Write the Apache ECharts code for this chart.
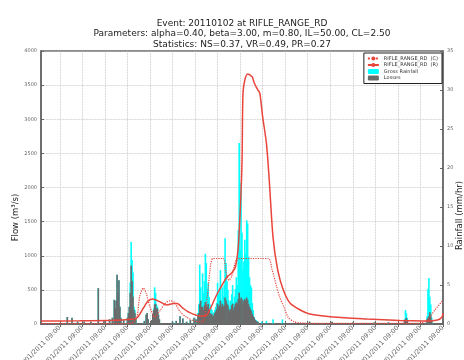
<!DOCTYPE html>
<html>
<head>
<meta charset="utf-8">
<script src="https://cdn.jsdelivr.net/npm/echarts@6/dist/echarts.min.js"></script>
<style>
html, body { margin: 0; padding: 0; background: #fff; }
#main { width: 464px; height: 360px; }
</style>
</head>
<body>
<div id="main"></div>
<script>
// hourly steps, first one at 31/12/2010 13:00 (ticks fall on 09:00 each day)
var startTime = Date.UTC(2010, 11, 31, 13);
var nHours = 429;

// flow, RIFLE_RANGE_RD (R): [hour index, m3/s]
var recHour = [0, 41, 79, 95, 102, 109, 114, 119, 127, 134, 141, 145, 151, 157, 169, 175, 178, 183, 188, 194,
  198, 203, 207, 210, 212, 214, 215, 217, 220, 225, 226, 228, 231, 233, 236, 240, 243, 247, 252, 258,
  265, 276, 286, 311, 347, 382, 407, 422, 427, 428];
var recFlow = [44, 46, 55, 70, 88, 234, 337, 366, 322, 278, 300, 300, 234, 176, 117, 117, 160, 308, 454, 600,
  688, 747, 835, 1128, 1626, 2358, 3370, 3575, 3662, 3618, 3575, 3501, 3428, 3384, 3035, 2650, 2110, 1277, 791, 498,
  308, 205, 147, 103, 73, 50, 44, 59, 103, 161];

// flow, RIFLE_RANGE_RD (C)
var calHour = [0, 95, 102, 105, 109, 112, 116, 121, 127, 132, 137, 142, 148, 155, 164, 172, 177, 180, 183, 194,
  197, 200, 203, 208, 212, 242, 246, 251, 254, 259, 263, 270, 286, 403, 412, 419, 428];
var calFlow = [5, 5, 100, 400, 527, 450, 250, 100, 200, 300, 340, 320, 180, 100, 40, 30, 400, 800, 960, 960,
  760, 640, 700, 950, 960, 960, 800, 540, 400, 240, 100, 30, 10, 10, 60, 200, 350];

// rainfall, mm/hr
var rainHour = [28, 33, 39, 46, 53, 61, 67, 73, 76, 78, 79, 80, 81, 82, 83, 84, 85, 88, 92, 93,
  94, 95, 96, 97, 98, 99, 100, 101, 110, 112, 113, 114, 118, 119, 120, 121, 122, 123, 124, 125,
  126, 140, 144, 148, 151, 155, 159, 163, 165,
  167, 168, 169, 170, 171, 172, 173, 174, 175, 176, 177, 178, 179, 180, 181, 182, 183, 184, 185, 186,
  187, 188, 189, 190, 191, 192, 193, 194, 195, 196, 197, 198, 199, 200, 201, 202, 203, 204, 205, 206,
  207, 208, 209, 210, 211, 212, 213, 214, 215, 216, 217, 218, 219, 220, 221, 222, 223, 224, 225, 226,
  227, 228, 229, 230, 231,
  235, 240, 247, 257, 286, 310, 332, 355, 370, 387, 388, 389, 390, 411, 412, 413, 414, 415, 416];
var grossRain = [0.9, 0.8, 0.3, 0.3, 0.3, 4.6, 0.4, 0.6, 0.8, 3.1, 2.0, 3.0, 6.3, 4.0, 5.6, 2.2, 0.8, 0.5, 0.8, 1.4,
  2.2, 5.3, 10.5, 8.2, 6.6, 2.2, 1.8, 0.8, 0.4, 1.2, 1.4, 0.6, 0.5, 1.3, 2.0, 4.7, 4.0, 2.5, 2.2, 1.3,
  0.6, 0.3, 0.4, 1.0, 0.7, 0.3, 0.5, 0.8, 0.6,
  1.4, 2.5, 7.6, 4.7, 3.0, 6.5, 4.0, 5.5, 9.0, 7.8, 4.5, 5.3, 3.5, 2.5, 2.0, 1.8, 1.2, 1.5, 1.8, 2.2,
  2.7, 5.3, 3.8, 4.2, 6.9, 3.0, 4.7, 3.5, 5.0, 11.0, 7.8, 5.5, 4.4, 3.0, 2.2, 3.0, 3.8, 5.0, 2.7, 3.5,
  4.5, 6.0, 5.0, 12.0, 23.2, 9.5, 18.1, 11.7, 6.9, 8.0, 10.8, 9.0, 13.3, 12.9, 8.6, 6.0, 5.0, 4.7, 2.7, 1.8,
  0.9, 0.6, 0.5, 0.4, 0.3,
  0.3, 0.4, 0.6, 0.6, 0.3, 0.3, 0.2, 0.2, 0.2, 0.6, 1.8, 1.4, 0.8, 1.0, 4.5, 5.9, 3.5, 2.5, 0.8];
var lossRain = [0.9, 0.8, 0.3, 0.3, 0.3, 4.6, 0.4, 0.6, 0.8, 3.1, 2.0, 3.0, 6.3, 4.0, 5.6, 2.2, 0.8, 0.5, 0.8, 1.4,
  2.2, 4.0, 7.5, 5.5, 3.5, 1.8, 1.4, 0.6, 0.4, 1.2, 1.4, 0.6, 0.5, 1.3, 1.8, 2.5, 2.6, 2.0, 2.0, 1.2,
  0.6, 0.3, 0.4, 1.0, 0.7, 0.3, 0.5, 0.8, 0.6,
  1.0, 1.4, 2.6, 3.0, 2.2, 2.2, 1.8, 2.4, 2.8, 2.4, 2.2, 2.6, 1.8, 1.4, 1.2, 1.3, 1.0, 1.1, 1.4, 1.6,
  1.9, 2.6, 2.2, 2.4, 3.0, 2.2, 2.6, 2.2, 2.4, 3.4, 3.0, 2.6, 2.4, 1.9, 1.6, 1.9, 2.4, 2.6, 1.8, 2.2,
  2.6, 2.8, 2.6, 3.2, 4.0, 3.0, 3.4, 3.2, 2.6, 3.0, 3.2, 3.0, 3.4, 3.1, 2.6, 2.2, 1.9, 1.7, 1.3, 1.0,
  0.8, 0.5, 0.4, 0.3, 0.3,
  0.1, 0.1, 0.1, 0.1, 0.3, 0.3, 0.2, 0.2, 0.2, 0.5, 0.6, 0.8, 0.5, 0.6, 0.8, 1.0, 1.5, 1.0, 0.5];

var titleText = 'Event: 20110102 at RIFLE_RANGE_RD\n' +
  'Parameters: alpha=0.40, beta=3.00, m=0.80, IL=50.00, CL=2.50\n' +
  'Statistics: NS=0.37, VR=0.49, PR=0.27';

function pad(n) { return n < 10 ? '0' + n : '' + n; }
var hours = [];
for (var i = 0; i < nHours; i++) {
  var d = new Date(startTime + i * 3600000);
  hours.push(pad(d.getUTCDate()) + '/' + pad(d.getUTCMonth() + 1) + '/' + d.getUTCFullYear() + ' ' +
    pad(d.getUTCHours()) + ':' + pad(d.getUTCMinutes()));
}
function atNine(index, value) { return hours[index].slice(-5) === '09:00'; }
function pairs(xs, ys) { return xs.map(function (x, k) { return [x, ys[k]]; }); }
function plain(v) { return '' + v; }

var red = '#e8453c';
var axisColor = '#666';
var font = 'DejaVu Sans';

var chart = echarts.init(document.getElementById('main'), null, { renderer: 'canvas' });
chart.setOption({
  animation: false,
  backgroundColor: '#fff',
  textStyle: { fontFamily: font },
  title: {
    text: titleText, left: 242, top: 18, padding: 0, textAlign: 'center',
    textStyle: { fontSize: 9, fontWeight: 'normal', lineHeight: 10.6, color: '#222', fontFamily: font }
  },
  legend: {
    data: ['RIFLE_RANGE_RD  (C)', 'RIFLE_RANGE_RD  (R)', 'Gross Rainfall', 'Losses'],
    orient: 'vertical', right: 22, top: 53, itemGap: 1.5, itemWidth: 11, itemHeight: 5,
    padding: [3, 4, 3, 3], borderColor: '#222', borderWidth: 1, backgroundColor: '#fff',
    textStyle: { fontSize: 5, color: '#333', fontFamily: font }
  },
  grid: {
    left: 41, right: 21, top: 51, bottom: 36, outerBoundsMode: 'none',
    show: true, borderColor: axisColor, borderWidth: 1.5
  },
  xAxis: [{
    type: 'category', data: hours, boundaryGap: false,
    axisLine: { lineStyle: { color: axisColor, width: 1.5 } },
    axisTick: { interval: atNine, inside: true, length: 3, lineStyle: { color: axisColor } },
    axisLabel: { interval: atNine, rotate: 45, fontSize: 6.5, color: '#666', margin: 3 },
    splitLine: { show: true, interval: atNine, lineStyle: { type: 'dotted', color: '#bbb', width: 0.8 } }
  }, {
    type: 'category', data: hours, boundaryGap: false, position: 'top',
    axisLine: { lineStyle: { color: axisColor, width: 1.5 } },
    axisTick: { interval: atNine, inside: true, length: 3, lineStyle: { color: axisColor } },
    axisLabel: { show: false }, splitLine: { show: false }
  }],
  yAxis: [{
    type: 'value', min: 0, max: 4000, interval: 500,
    name: 'Flow (m³/s)', nameLocation: 'middle', nameGap: 21, nameRotate: 90, nameMoveOverlap: false,
    nameTextStyle: { fontSize: 8.5, color: '#222', padding: [0, 60, 0, 0] },
    axisLine: { show: true, lineStyle: { color: axisColor, width: 1.5 } },
    axisTick: { show: true, inside: true, length: 3, lineStyle: { color: axisColor } },
    axisLabel: { fontSize: 5, color: '#666', margin: 4, formatter: plain },
    splitLine: { lineStyle: { type: 'dotted', color: '#bbb', width: 0.8 } }
  }, {
    type: 'value', min: 0, max: 35, interval: 5, position: 'right',
    name: 'Rainfall (mm/hr)', nameLocation: 'middle', nameGap: 12, nameRotate: 90, nameMoveOverlap: false,
    nameTextStyle: { fontSize: 8.5, color: '#222', padding: [0, 56, 0, 0] },
    axisLine: { show: true, lineStyle: { color: axisColor, width: 1.5 } },
    axisTick: { show: true, inside: true, length: 3, lineStyle: { color: axisColor } },
    axisLabel: { fontSize: 5, color: '#666', margin: 4, formatter: plain },
    splitLine: { show: false }
  }],
  series: [{
    name: 'Gross Rainfall', type: 'bar', yAxisIndex: 1, barWidth: 1.6, barGap: '-100%',
    itemStyle: { color: '#00ffff' },
    data: pairs(rainHour, grossRain)
  }, {
    name: 'Losses', type: 'bar', yAxisIndex: 1, barWidth: 1.6, barGap: '-100%',
    itemStyle: { color: '#6b6b6b' },
    data: pairs(rainHour, lossRain)
  }, {
    name: 'RIFLE_RANGE_RD  (C)', type: 'line', yAxisIndex: 0, symbol: 'none', smooth: 0.25,
    lineStyle: { type: 'dotted', width: 1.2, color: red }, itemStyle: { color: red },
    data: pairs(calHour, calFlow)
  }, {
    name: 'RIFLE_RANGE_RD  (R)', type: 'line', yAxisIndex: 0, symbol: 'none', smooth: 0.25,
    lineStyle: { width: 1.5, color: red }, itemStyle: { color: red },
    data: pairs(recHour, recFlow)
  }]
});
</script>
</body>
</html>
